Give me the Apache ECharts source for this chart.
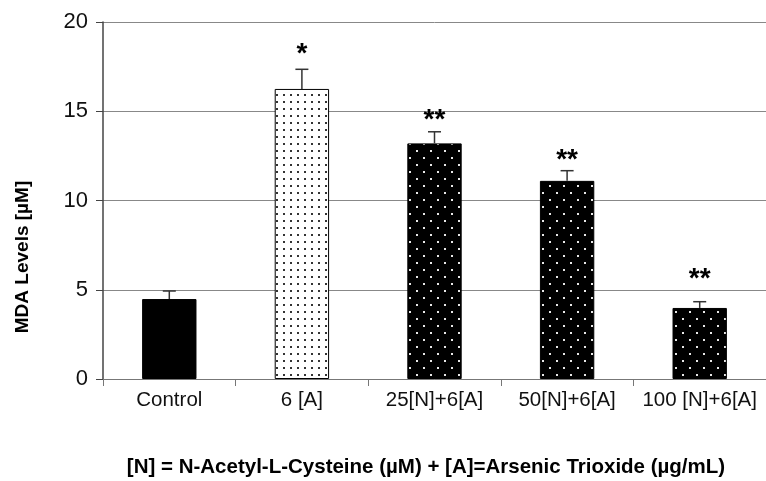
<!DOCTYPE html>
<html>
<head>
<meta charset="utf-8">
<script src="https://cdn.jsdelivr.net/npm/echarts@6/dist/echarts.min.js"></script>
<style>
  html, body { margin: 0; padding: 0; background: #fff; }
  #chart { width: 766px; height: 481px; }
</style>
</head>
<body>
<div id="chart"></div>
<script>
let categories = ['Control', '6 [A]', '25[N]+6[A]', '50[N]+6[A]', '100 [N]+6[A]'];
let mdaValues = [4.48, 16.25, 13.2, 11.1, 3.98];
let errValues = [0.45, 1.1, 0.65, 0.57, 0.35];
let marks = ['', '*', '**', '**', '**'];
// level (in µM) at which each significance mark sits
let markLevels = [0, 18.4, 14.7, 12.5, 5.8];
let fontName = '"Liberation Sans", Arial, sans-serif';

// small tiled canvas used as a bar fill
function dotPattern(bg, fg, size, dots) {
    let cv = document.createElement('canvas');
    cv.width = size;
    cv.height = size;
    let ctx = cv.getContext('2d');
    ctx.fillStyle = bg;
    ctx.fillRect(0, 0, size, size);
    ctx.fillStyle = fg;
    dots.forEach(function (d) {
        ctx.fillRect(d[0], d[1], 2, 2);
    });
    return { image: cv, repeat: 'repeat' };
}

let whiteDots = dotPattern('#fff', '#333', 7, [[3, 3]]);
let blackDots = dotPattern('#000', '#e8e8e8', 14, [[3, 3], [10, 10]]);
let fills = ['#000', whiteDots, blackDots, blackDots, blackDots];

let option = {
    animation: false,
    grid: {
        left: 103,
        top: 22,
        width: 665,
        height: 357
    },
    xAxis: {
        type: 'category',
        data: categories,
        axisLine: { lineStyle: { color: '#777', width: 1 } },
        axisTick: { show: true, length: 7, lineStyle: { color: '#777' } },
        axisLabel: {
            color: '#111',
            fontSize: 20.5,
            fontFamily: fontName,
            margin: 11,
            interval: 0
        }
    },
    yAxis: {
        type: 'value',
        min: 0,
        max: 20,
        interval: 5,
        axisLine: { show: true, lineStyle: { color: '#444', width: 1.5 } },
        axisTick: { show: true, length: 7, lineStyle: { color: '#444' } },
        axisLabel: {
            color: '#111',
            fontSize: 22,
            fontFamily: fontName,
            margin: 15
        },
        splitLine: { show: true, lineStyle: { color: '#888', width: 1 } }
    },
    graphic: [
        {
            type: 'text',
            x: 23,
            y: 257,
            rotation: Math.PI / 2,
            style: {
                text: 'MDA Levels [µM]',
                font: 'bold 19px ' + fontName,
                fill: '#000',
                align: 'center',
                verticalAlign: 'middle'
            }
        },
        {
            type: 'text',
            x: 426,
            y: 467,
            style: {
                text: '[N] = N-Acetyl-L-Cysteine (µM) + [A]=Arsenic Trioxide (µg/mL)',
                font: 'bold 20.5px ' + fontName,
                fill: '#000',
                align: 'center',
                verticalAlign: 'middle'
            }
        }
    ],
    series: [
        {
            type: 'bar',
            barWidth: '41%',
            data: mdaValues.map(function (v, i) {
                return {
                    value: v,
                    itemStyle: { color: fills[i], borderColor: '#000', borderWidth: 1 }
                };
            })
        },
        {
            type: 'custom',
            z: 5,
            data: mdaValues.map(function (v, i) {
                return [i, v, errValues[i], markLevels[i]];
            }),
            renderItem: function (params, api) {
                let base = api.coord([api.value(0), api.value(1)]);
                let top = api.coord([api.value(0), api.value(1) + api.value(2)]);
                let star = api.coord([api.value(0), api.value(3)]);
                let cap = 6.5;
                return {
                    type: 'group',
                    children: [
                        {
                            type: 'line',
                            shape: { x1: base[0], y1: base[1], x2: top[0], y2: top[1] },
                            style: { stroke: '#333', lineWidth: 1.5 }
                        },
                        {
                            type: 'line',
                            shape: { x1: top[0] - cap, y1: top[1], x2: top[0] + cap, y2: top[1] },
                            style: { stroke: '#333', lineWidth: 1.5 }
                        },
                        {
                            type: 'text',
                            x: star[0],
                            y: star[1] + 18,
                            style: {
                                text: marks[params.dataIndex],
                                font: 'bold 28px ' + fontName,
                                fill: '#000',
                                align: 'center',
                                verticalAlign: 'bottom'
                            }
                        }
                    ]
                };
            }
        }
    ]
};

let chart = echarts.init(document.getElementById('chart'));
chart.setOption(option);
</script>
</body>
</html>
